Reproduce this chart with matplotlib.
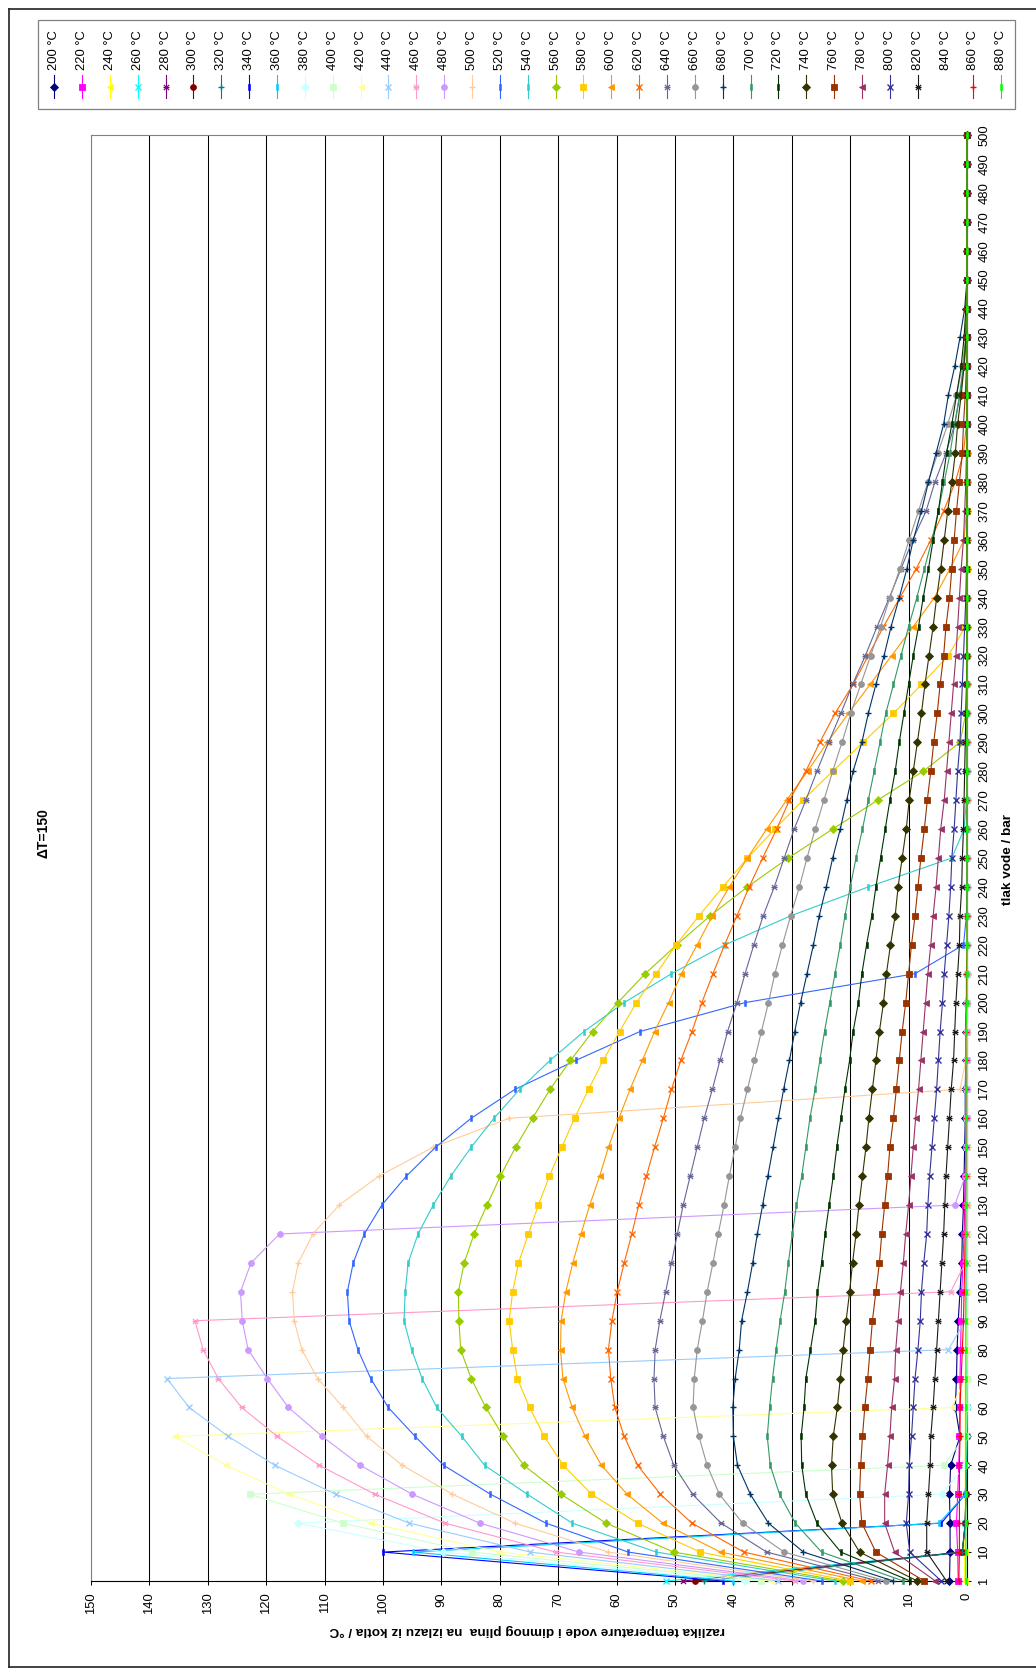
import numpy as np
import matplotlib
matplotlib.use('Agg')
import matplotlib.pyplot as plt
from matplotlib.path import Path
from matplotlib.lines import Line2D
from matplotlib.patches import Rectangle

plt.rcParams['font.family'] = ['Liberation Sans', 'DejaVu Sans']

# ---------------- data ----------------
pressure_labels = ['1', '10', '20', '30', '40', '50', '60', '70', '80', '90',
                   '100', '110', '120', '130', '140', '150', '160', '170', '180', '190',
                   '200', '210', '220', '230', '240', '250', '260', '270', '280', '290',
                   '300', '310', '320', '330', '340', '350', '360', '370', '380', '390',
                   '400', '410', '420', '430', '440', '450', '460', '470', '480', '490',
                   '500']

series_names = ['200 °C', '220 °C', '240 °C', '260 °C', '280 °C', '300 °C', '320 °C',
                '340 °C', '360 °C', '380 °C', '400 °C', '420 °C', '440 °C', '460 °C',
                '480 °C', '500 °C', '520 °C', '540 °C', '560 °C', '580 °C', '600 °C',
                '620 °C', '640 °C', '660 °C', '680 °C', '700 °C', '720 °C', '740 °C',
                '760 °C', '780 °C', '800 °C', '820 °C', '840 °C', '860 °C', '880 °C']

series_colors = ['#000080', '#FF00FF', '#FFFF00', '#00FFFF', '#800080', '#800000', '#008080',
                 '#0000FF', '#00CCFF', '#CCFFFF', '#CCFFCC', '#FFFF99', '#99CCFF', '#FF99CC',
                 '#CC99FF', '#FFCC99', '#3366FF', '#33CCCC', '#99CC00', '#FFCC00', '#FF9900',
                 '#FF6600', '#666699', '#969696', '#003366', '#339966', '#003300', '#333300',
                 '#993300', '#993366', '#333399', '#1A1A1A', 'none', '#FF0000', '#00FF00']

series_markers = ['diamond', 'square', 'triangle', 'x', 'star', 'circle', 'plus',
                  'dash', 'dash', 'diamond', 'square', 'triangle', 'x', 'star',
                  'circle', 'plus', 'dash', 'dash', 'diamond', 'square', 'triangle',
                  'x', 'star', 'circle', 'plus', 'dash', 'dash', 'diamond',
                  'square', 'triangle', 'x', 'star', 'none', 'plus', 'dash']

s200 = [3.0, 2.9, 2.9, 3.0, 2.8, 1.2, 2.0, 1.8, 1.7, 1.5,
        1.2, 0.9, 0.8, 0.6, 0.5, 0.4, 0.3, 0.3, 0.2, 0.2,
        0.1, 0, 0, 0, 0, 0, 0, 0, 0, 0,
        0, 0, 0, 0, 0, 0, 0, 0, 0, 0,
        0, 0, 0, 0, 0, 0, 0, 0, 0, 0, 0]
s220 = [1.5, 1.6, 1.8, 1.6, 1.4, 1.3, 1.2, 1.2, 1.1, 1.0,
        0.9, 0.7, 0.5, 0.4, 0.3, 0.2, 0.2, 0.1, 0, 0,
        0, 0, 0, 0, 0, 0, 0, 0, 0, 0,
        0, 0, 0, 0, 0, 0, 0, 0, 0, 0,
        0, 0, 0, 0, 0, 0, 0, 0, 0, 0, 0]
s240 = [0.4, 0.4, 0.3, 0.3, 0.3, 0.3, 0.3, 0.3, 0.2, 0.2,
        0.2, 0.2, 0.1, 0.1, 0, 0, 0, 0, 0, 0,
        0, 0, 0, 0, 0, 0, 0, 0, 0, 0,
        0, 0, 0, 0, 0, 0, 0, 0, 0, 0,
        0, 0, 0, 0, 0, 0, 0, 0, 0, 0, 0]
s260 = [51.6, 0.8, 0.3, 0.2, 0.1, 0, 0, 0, 0, 0,
        0, 0, 0, 0, 0, 0, 0, 0, 0, 0,
        0, 0, 0, 0, 0, 0, 0, 0, 0, 0,
        0, 0, 0, 0, 0, 0, 0, 0, 0, 0,
        0, 0, 0, 0, 0, 0, 0, 0, 0, 0, 0]
s280 = [48.6, 0.8, 0.3, 0.2, 0.1, 0, 0, 0, 0, 0,
        0, 0, 0, 0, 0, 0, 0, 0, 0, 0,
        0, 0, 0, 0, 0, 0, 0, 0, 0, 0,
        0, 0, 0, 0, 0, 0, 0, 0, 0, 0,
        0, 0, 0, 0, 0, 0, 0, 0, 0, 0, 0]
s300 = [46.5, 0.8, 0.3, 0.2, 0.1, 0, 0, 0, 0, 0,
        0, 0, 0, 0, 0, 0, 0, 0, 0, 0,
        0, 0, 0, 0, 0, 0, 0, 0, 0, 0,
        0, 0, 0, 0, 0, 0, 0, 0, 0, 0,
        0, 0, 0, 0, 0, 0, 0, 0, 0, 0, 0]
s320 = [45.0, 0.8, 0.3, 0.2, 0.1, 0, 0, 0, 0, 0,
        0, 0, 0, 0, 0, 0, 0, 0, 0, 0,
        0, 0, 0, 0, 0, 0, 0, 0, 0, 0,
        0, 0, 0, 0, 0, 0, 0, 0, 0, 0,
        0, 0, 0, 0, 0, 0, 0, 0, 0, 0, 0]
s340 = [41.7, 100.0, 4.4, 0.3, 0.1, 0, 0, 0, 0, 0,
        0, 0, 0, 0, 0, 0, 0, 0, 0, 0,
        0, 0, 0, 0, 0, 0, 0, 0, 0, 0,
        0, 0, 0, 0, 0, 0, 0, 0, 0, 0,
        0, 0, 0, 0, 0, 0, 0, 0, 0, 0, 0]
s360 = [40.0, 94.8, 4.8, 0.3, 0.1, 0, 0, 0, 0, 0,
        0, 0, 0, 0, 0, 0, 0, 0, 0, 0,
        0, 0, 0, 0, 0, 0, 0, 0, 0, 0,
        0, 0, 0, 0, 0, 0, 0, 0, 0, 0,
        0, 0, 0, 0, 0, 0, 0, 0, 0, 0, 0]
s380 = [38.0, 89.7, 114.5, 4.3, 0.3, 0.1, 0, 0, 0, 0,
        0, 0, 0, 0, 0, 0, 0, 0, 0, 0,
        0, 0, 0, 0, 0, 0, 0, 0, 0, 0,
        0, 0, 0, 0, 0, 0, 0, 0, 0, 0,
        0, 0, 0, 0, 0, 0, 0, 0, 0, 0, 0]
s400 = [35.2, 84.8, 106.9, 122.8, 4.0, 0.3, 0.1, 0, 0, 0,
        0, 0, 0, 0, 0, 0, 0, 0, 0, 0,
        0, 0, 0, 0, 0, 0, 0, 0, 0, 0,
        0, 0, 0, 0, 0, 0, 0, 0, 0, 0,
        0, 0, 0, 0, 0, 0, 0, 0, 0, 0, 0]
s420 = [33.6, 80.1, 102.1, 116.1, 126.8, 135.6, 2.6, 0.3, 0.1, 0,
        0, 0, 0, 0, 0, 0, 0, 0, 0, 0,
        0, 0, 0, 0, 0, 0, 0, 0, 0, 0,
        0, 0, 0, 0, 0, 0, 0, 0, 0, 0,
        0, 0, 0, 0, 0, 0, 0, 0, 0, 0, 0]
s440 = [32.3, 74.8, 95.5, 108.1, 118.5, 126.5, 133.2, 137.0, 3.2, 0.3,
        0.1, 0, 0, 0, 0, 0, 0, 0, 0, 0,
        0, 0, 0, 0, 0, 0, 0, 0, 0, 0,
        0, 0, 0, 0, 0, 0, 0, 0, 0, 0,
        0, 0, 0, 0, 0, 0, 0, 0, 0, 0, 0]
s460 = [29.5, 70.4, 89.4, 101.4, 110.9, 118.1, 124.2, 128.2, 130.8, 132.2,
        2.8, 0.3, 0.1, 0, 0, 0, 0, 0, 0, 0,
        0, 0, 0, 0, 0, 0, 0, 0, 0, 0,
        0, 0, 0, 0, 0, 0, 0, 0, 0, 0,
        0, 0, 0, 0, 0, 0, 0, 0, 0, 0, 0]
s480 = [28.0, 66.4, 83.4, 95.0, 103.9, 110.4, 116.2, 119.8, 123.1, 124.1,
        124.4, 122.6, 117.7, 2.1, 0.3, 0.1, 0, 0, 0, 0,
        0, 0, 0, 0, 0, 0, 0, 0, 0, 0,
        0, 0, 0, 0, 0, 0, 0, 0, 0, 0,
        0, 0, 0, 0, 0, 0, 0, 0, 0, 0, 0]
s500 = [26.4, 61.4, 77.4, 88.1, 96.7, 102.8, 106.8, 111.2, 113.9, 115.2,
        115.5, 114.5, 112.0, 107.5, 100.7, 91.4, 78.4, 1.2, 0.2, 0,
        0, 0, 0, 0, 0, 0, 0, 0, 0, 0,
        0, 0, 0, 0, 0, 0, 0, 0, 0, 0,
        0, 0, 0, 0, 0, 0, 0, 0, 0, 0, 0]
s520 = [24.9, 58.0, 72.1, 81.6, 89.6, 94.5, 99.1, 102.1, 104.3, 105.8,
        106.1, 105.1, 103.2, 100.2, 96.0, 91.0, 84.9, 77.4, 67.0, 56.0,
        38.0, 8.9, 0.6, 0.1, 0, 0, 0, 0, 0, 0,
        0, 0, 0, 0, 0, 0, 0, 0, 0, 0,
        0, 0, 0, 0, 0, 0, 0, 0, 0, 0, 0]
s540 = [22.6, 53.2, 67.6, 75.3, 82.6, 86.5, 90.8, 93.3, 95.1, 96.4,
        96.2, 95.7, 94.0, 91.4, 88.4, 84.9, 81.0, 76.6, 71.4, 65.6,
        58.7, 50.6, 41.4, 30.2, 16.9, 2.6, 0.5, 0.1, 0, 0,
        0, 0, 0, 0, 0, 0, 0, 0, 0, 0,
        0, 0, 0, 0, 0, 0, 0, 0, 0, 0, 0]
s560 = [21.3, 50.2, 61.8, 69.5, 75.9, 79.4, 82.4, 84.9, 86.7, 87.0,
        87.1, 86.1, 84.4, 82.2, 79.9, 77.3, 74.4, 71.4, 67.9, 64.1,
        59.8, 55.1, 49.7, 44.0, 37.6, 30.6, 23.0, 15.3, 7.5, 1.2,
        0.2, 0, 0, 0, 0, 0, 0, 0, 0, 0,
        0, 0, 0, 0, 0, 0, 0, 0, 0, 0, 0]
s580 = [20.0, 45.7, 56.4, 64.3, 69.1, 72.4, 74.9, 77.0, 77.8, 78.4,
        77.8, 76.8, 75.1, 73.4, 71.5, 69.4, 67.2, 64.8, 62.3, 59.5,
        56.6, 53.2, 49.8, 45.9, 41.8, 37.6, 32.9, 28.1, 23.0, 17.8,
        12.6, 7.8, 3.2, 0.3, 0.1, 0, 0, 0, 0, 0,
        0, 0, 0, 0, 0, 0, 0, 0, 0, 0, 0]
s600 = [18.0, 42.2, 52.1, 58.2, 62.6, 65.4, 67.6, 69.2, 69.6, 69.5,
        68.7, 67.5, 66.1, 64.6, 62.9, 61.4, 59.6, 57.7, 55.6, 53.5,
        51.1, 48.9, 46.2, 43.6, 40.7, 37.6, 34.3, 30.9, 27.3, 23.9,
        20.3, 16.6, 12.9, 9.2, 5.6, 2.9, 0.5, 0.1, 0, 0,
        0, 0, 0, 0, 0, 0, 0, 0, 0, 0, 0]
s620 = [16.5, 38.2, 47.1, 52.5, 56.4, 58.7, 60.3, 61.0, 61.4, 60.8,
        59.9, 58.7, 57.4, 56.2, 54.9, 53.5, 52.0, 50.6, 49.0, 47.1,
        45.4, 43.5, 41.5, 39.4, 37.3, 35.0, 32.6, 30.4, 27.6, 25.2,
        22.6, 19.5, 16.9, 14.3, 11.5, 8.7, 6.2, 4.0, 2.0, 0.6,
        0.1, 0, 0, 0, 0, 0, 0, 0, 0, 0, 0]
s640 = [15.2, 34.3, 42.1, 47.0, 50.2, 52.0, 53.4, 53.6, 53.4, 52.6,
        51.6, 50.6, 49.6, 48.6, 47.4, 46.2, 45.0, 43.6, 42.3, 41.0,
        39.4, 38.0, 36.5, 34.9, 33.0, 31.3, 29.6, 27.6, 25.7, 23.7,
        21.6, 19.6, 17.4, 15.4, 13.3, 11.3, 9.3, 7.0, 5.5, 3.6,
        2.1, 1.2, 0.5, 0.1, 0, 0, 0, 0, 0, 0, 0]
s660 = [13.9, 31.3, 38.4, 42.4, 44.5, 45.9, 46.9, 46.7, 46.2, 45.3,
        44.5, 43.5, 42.6, 41.6, 40.7, 39.7, 38.8, 37.6, 36.4, 35.2,
        34.0, 32.9, 31.6, 30.2, 28.7, 27.4, 26.0, 24.5, 23.0, 21.4,
        19.9, 18.2, 16.5, 14.8, 13.2, 11.5, 9.9, 8.3, 6.7, 5.0,
        3.3, 1.8, 0.8, 0.2, 0, 0, 0, 0, 0, 0, 0]
s680 = [12.6, 28.0, 34.0, 37.1, 39.3, 40.0, 40.1, 39.7, 39.0, 38.6,
        37.6, 36.7, 35.9, 35.0, 34.1, 33.2, 32.3, 31.4, 30.4, 29.5,
        28.5, 27.4, 26.3, 25.3, 24.1, 23.0, 21.7, 20.6, 19.5, 18.0,
        16.9, 15.6, 14.2, 13.0, 11.6, 10.3, 9.2, 7.8, 6.6, 5.3,
        4.0, 3.2, 2.1, 1.2, 0.4, 0, 0, 0, 0, 0, 0]
s700 = [10.9, 24.9, 29.4, 32.1, 33.7, 34.2, 33.8, 33.3, 32.7, 32.0,
        31.2, 30.6, 29.9, 29.2, 28.3, 27.6, 26.9, 26.0, 25.2, 24.4,
        23.5, 22.6, 21.7, 20.9, 20.0, 19.0, 17.9, 16.9, 15.9, 14.9,
        13.9, 12.6, 11.3, 10.0, 8.6, 7.3, 6.0, 4.9, 3.9, 2.9,
        2.1, 1.3, 0.6, 0.2, 0, 0, 0, 0, 0, 0, 0]
s720 = [9.7, 21.6, 25.7, 27.6, 28.3, 28.4, 27.9, 27.6, 26.8, 26.0,
        25.6, 24.9, 24.3, 23.6, 22.9, 22.3, 21.6, 20.9, 20.1, 19.5,
        18.6, 18.0, 17.2, 16.3, 15.6, 14.8, 14.0, 13.2, 12.3, 11.6,
        10.8, 10.0, 9.2, 8.3, 7.5, 6.6, 5.8, 4.9, 4.2, 3.5,
        2.6, 1.8, 1.0, 0.5, 0.2, 0, 0, 0, 0, 0, 0]
s740 = [8.5, 18.4, 21.4, 23.0, 23.2, 22.9, 22.2, 21.7, 21.2, 20.7,
        20.1, 19.6, 19.0, 18.5, 17.9, 17.3, 16.8, 16.2, 15.6, 15.0,
        14.3, 13.8, 13.1, 12.3, 11.8, 11.1, 10.4, 9.9, 9.2, 8.5,
        7.8, 7.2, 6.5, 5.8, 5.2, 4.5, 3.9, 3.3, 2.6, 2.0,
        1.6, 1.0, 0.5, 0.2, 0.1, 0, 0, 0, 0, 0, 0]
s760 = [7.3, 15.6, 18.0, 18.4, 18.2, 17.9, 17.5, 17.0, 16.6, 16.2,
        15.6, 15.0, 14.6, 14.1, 13.6, 13.2, 12.6, 12.1, 11.6, 11.1,
        10.5, 10.0, 9.5, 8.9, 8.4, 7.9, 7.3, 6.8, 6.2, 5.7,
        5.1, 4.6, 4.0, 3.6, 3.0, 2.6, 2.2, 1.8, 1.3, 0.8,
        0.6, 0.3, 0.1, 0, 0, 0, 0, 0, 0, 0, 0]
s780 = [5.4, 12.4, 14.1, 14.1, 13.6, 13.2, 12.9, 12.4, 12.2, 11.8,
        11.4, 10.9, 10.5, 10.0, 9.6, 9.2, 8.8, 8.3, 7.9, 7.5,
        7.1, 6.7, 6.2, 5.8, 5.3, 4.9, 4.5, 3.9, 3.5, 3.1,
        2.7, 2.3, 1.9, 1.6, 1.3, 1.0, 0.6, 0.4, 0.2, 0.1,
        0, 0, 0, 0, 0, 0, 0, 0, 0, 0, 0]
s800 = [4.4, 9.8, 10.4, 10.0, 9.9, 9.5, 9.2, 8.9, 8.4, 8.0,
        7.8, 7.4, 6.9, 6.7, 6.4, 6.0, 5.6, 5.2, 4.9, 4.6,
        4.2, 3.9, 3.5, 3.1, 2.8, 2.6, 2.2, 1.9, 1.6, 1.2,
        1.0, 0.8, 0.6, 0.4, 0.2, 0.1, 0, 0, 0, 0,
        0, 0, 0, 0, 0, 0, 0, 0, 0, 0, 0]
s820 = [3.5, 6.9, 6.9, 6.6, 6.3, 6.2, 5.8, 5.5, 5.2, 4.9,
        4.6, 4.3, 4.0, 3.8, 3.6, 3.3, 3.0, 2.7, 2.3, 2.1,
        1.9, 1.6, 1.3, 1.2, 0.9, 0.8, 0.6, 0.5, 0.4, 0.3,
        0.2, 0.1, 0, 0, 0, 0, 0, 0, 0, 0,
        0, 0, 0, 0, 0, 0, 0, 0, 0, 0, 0]
s840 = None  # no plotted data in the reference
s860 = [1.4, 1.3, 1.3, 1.3, 1.3, 1.2, 1.2, 1.0, 0.8, 0.6,
        0.5, 0.4, 0.3, 0.3, 0.2, 0.2, 0.2, 0.2, 0.2, 0.2,
        0.1, 0.1, 0, 0, 0, 0, 0, 0, 0, 0,
        0, 0, 0, 0, 0, 0, 0, 0, 0, 0,
        0, 0, 0, 0, 0, 0, 0, 0, 0, 0, 0]
s880 = [0.2, 0.2, 0.2, 0.2, 0.2, 0.2, 0.2, 0.2, 0.2, 0.2,
        0.2, 0.2, 0.2, 0.2, 0.2, 0.2, 0.2, 0.2, 0.2, 0.2,
        0, 0, 0, 0, 0, 0, 0, 0, 0, 0,
        0, 0, 0, 0, 0, 0, 0, 0, 0, 0,
        0, 0, 0, 0, 0, 0, 0, 0, 0, 0, 0]

series_values = [s200, s220, s240, s260, s280, s300, s320, s340, s360, s380,
                 s400, s420, s440, s460, s480, s500, s520, s540, s560, s580,
                 s600, s620, s640, s660, s680, s700, s720, s740, s760, s780,
                 s800, s820, s840, s860, s880]

title_text = 'ΔT=150'
xlabel_text = 'tlak vode / bar'
ylabel_text = 'razlika temperature vode i dimnog plina  na izlazu iz kotla / °C'

# ---------------- styling helpers ----------------
W, H = 1036, 1673
fig = plt.figure(figsize=(W / 100, H / 100), dpi=100)
fig.patch.set_facecolor('white')


def fx(px):
    return px / W


def fy(py):
    return 1 - py / H


star_path = Path([(-1, -1), (1, 1), (-1, 1), (1, -1), (-1.2, 0), (1.2, 0)],
                 [Path.MOVETO, Path.LINETO, Path.MOVETO, Path.LINETO, Path.MOVETO, Path.LINETO])
dash_path = Path([(-0.32, -1), (0.32, -1), (0.32, 1), (-0.32, 1), (-0.32, -1)],
                 [Path.MOVETO, Path.LINETO, Path.LINETO, Path.LINETO, Path.CLOSEPOLY])

marker_style = {
    'diamond': dict(marker='D', ms=3.6, mew=0.6),
    'square': dict(marker='s', ms=3.8, mew=0.6),
    'triangle': dict(marker='<', ms=4.6, mew=0.6),
    'x': dict(marker='x', ms=4.2, mew=1.0),
    'star': dict(marker=star_path, ms=4.4, mew=0.9),
    'circle': dict(marker='o', ms=4.2, mew=0.6),
    'plus': dict(marker='+', ms=5.0, mew=1.0),
    'dash': dict(marker=dash_path, ms=4.2, mew=0.4),
}

# ---------------- plot area ----------------
PL, PR, PT, PB = 91, 967, 135, 1581
ax = fig.add_axes([fx(PL), fy(PB), (PR - PL) / W, (PB - PT) / H])
ax.set_facecolor('white')
ypos = np.arange(len(pressure_labels))
ax.set_xlim(150, 0)
ax.set_ylim(0, len(pressure_labels) - 1)

for name, vals, col, mk in zip(series_names, series_values, series_colors, series_markers):
    if vals is None or mk == 'none':
        continue
    st = marker_style[mk]
    ax.plot(vals, ypos, color=col, lw=0.8, marker=st['marker'], ms=st['ms'],
            mfc=col, mec=col, mew=st['mew'], zorder=3, clip_on=False)

ax.set_xticks(np.arange(0, 151, 10))
ax.set_xticklabels([str(v) for v in range(0, 151, 10)], rotation=90, fontsize=9.4)
ax.grid(axis='x', color='black', lw=0.75, zorder=1)
ax.set_axisbelow(True)
ax.yaxis.tick_right()
ax.set_yticks(ypos)
ax.set_yticklabels(pressure_labels, rotation=90, va='center', fontsize=9.4)
ax.tick_params(axis='x', direction='out', length=3.2, width=0.75, pad=5, colors='black')
ax.tick_params(axis='y', direction='out', length=3.2, width=0.75, pad=5, colors='black')
ax.spines['left'].set_color('#808080')
ax.spines['top'].set_color('#808080')
ax.spines['bottom'].set_color('black')
ax.spines['right'].set_color('black')
for s in ax.spines.values():
    s.set_linewidth(0.8)

# ---------------- texts ----------------
fig.text(fx(43), fy(833), title_text, rotation=90, ha='center', va='center',
         fontsize=10, fontweight='bold')
fig.text(fx(1008), fy(859), xlabel_text, rotation=90, ha='center', va='center',
         fontsize=9.7, fontweight='bold')
fig.text(fx(527), fy(1630), ylabel_text, rotation=180, ha='center', va='center',
         fontsize=9.7, fontweight='bold')

# ---------------- legend (rotated layout, drawn manually) ----------------
fig.add_artist(Rectangle((fx(37.8), fy(109)), fx(1015) - fx(37.8), fy(20) - fy(109),
                         transform=fig.transFigure, fill=False, ec='#808080', lw=0.9))
for k, (name, col, mk) in enumerate(zip(series_names, series_colors, series_markers)):
    xk = 54.1 + 27.86 * k
    fig.text(fx(xk), fy(70), name, rotation=90, ha='center', va='bottom', fontsize=9.4)
    if mk == 'none':
        continue
    st = marker_style[mk]
    fig.add_artist(Line2D([fx(xk), fx(xk)], [fy(75), fy(98)], color=col, lw=0.8,
                          transform=fig.transFigure))
    fig.add_artist(Line2D([fx(xk)], [fy(86.7)], color=col, lw=0, marker=st['marker'],
                          ms=st['ms'], mfc=col, mec=col, mew=st['mew'],
                          transform=fig.transFigure))

# ---------------- chart border ----------------
fig.add_artist(Line2D([fx(8.5), fx(8.5)], [fy(8.5), fy(1667)], color='#222222', lw=1.2,
                      transform=fig.transFigure))
fig.add_artist(Line2D([fx(8.5), 1.0], [fy(8.5), fy(8.5)], color='#222222', lw=1.2,
                      transform=fig.transFigure))
fig.add_artist(Line2D([fx(8.5), 1.0], [fy(1667), fy(1667)], color='#222222', lw=1.2,
                      transform=fig.transFigure))

fig.savefig('out.png', dpi=100, facecolor='white')
